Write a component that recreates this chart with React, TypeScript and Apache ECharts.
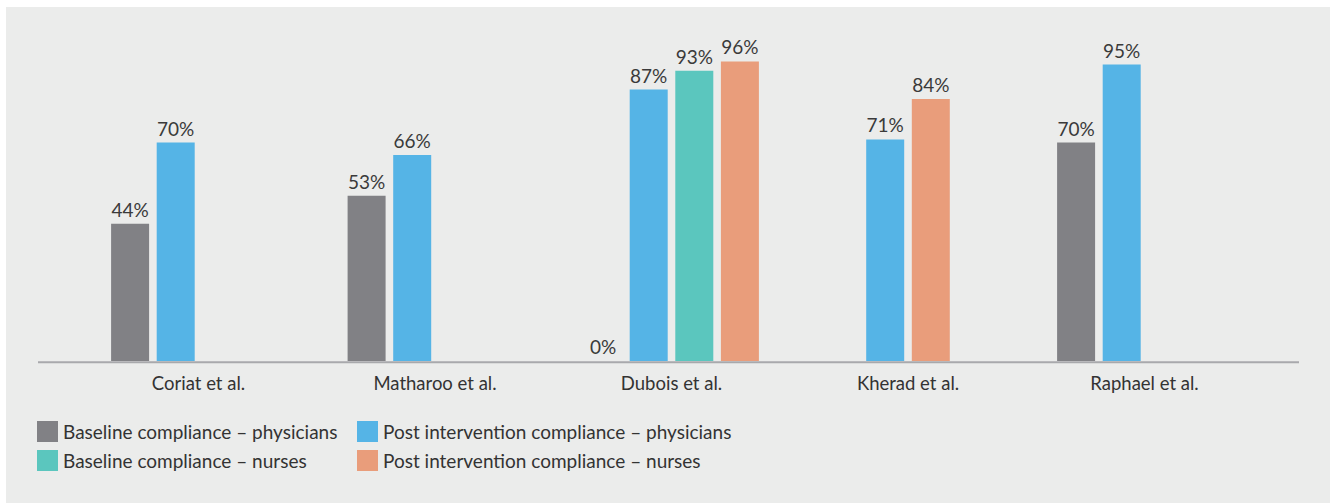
import React, { useEffect, useRef } from "react";
import * as echarts from "echarts";

const categories = ["Coriat et al.", "Matharoo et al.", "Dubois et al.", "Kherad et al.", "Raphael et al."];
const baselinePhysicians: (number | null)[] = [44, 53, 0, null, 70];
const postPhysicians: (number | null)[] = [70, 66, 87, 71, 95];
const baselineNurses: (number | null)[] = [null, null, 93, null, null];
const postNurses: (number | null)[] = [null, null, 96, 84, null];

const names = [
  "Baseline compliance – physicians",
  "Post intervention compliance – physicians",
  "Baseline compliance – nurses",
  "Post intervention compliance – nurses",
];
const colors = ["#818185", "#55b4e6", "#5bc6be", "#e99d7b"];

const FONT = "Lato";

export default function App() {
  const ref = useRef<HTMLDivElement>(null);
  useEffect(() => {
    document.body.style.margin = "0";
    const chart = echarts.init(ref.current!, undefined, { renderer: "svg" });
    // post-intervention nurses bar takes the third slot when there is no baseline nurses bar
    const postNursesThird = postNurses.map((v, i) => (baselineNurses[i] == null ? v : null));
    const postNursesFourth = postNurses.map((v, i) => (baselineNurses[i] != null ? v : null));

    const label = {
      show: true,
      position: "top" as const,
      distance: 5,
      formatter: "{c}%",
      fontFamily: FONT,
      fontSize: 19,
      color: "#3a3a3a",
    };
    const bar = (name: string, data: (number | null)[], color: string, stack?: string) => ({
      type: "bar",
      name,
      data,
      stack,
      barWidth: 38,
      barGap: "20%",
      itemStyle: { color },
      label,
    });
    const legendBase = {
      orient: "vertical",
      top: 421,
      padding: 0,
      itemWidth: 21,
      itemHeight: 21,
      itemGap: 8,
      icon: "rect",
      textStyle: { fontFamily: FONT, fontSize: 19, color: "#333333" },
    };

    chart.setOption({
      animation: false,
      backgroundColor: "#ffffff",
      textStyle: { fontFamily: FONT },
      graphic: [
        {
          type: "rect",
          z: -10,
          shape: { x: 6, y: 7, width: 1324, height: 496 },
          style: { fill: "#ebeceb" },
        },
        {
          type: "line",
          z: 10,
          shape: { x1: 38, y1: 362.3, x2: 1299, y2: 362.3 },
          style: { stroke: "#a8a9ac", lineWidth: 2 },
        },
      ],
      grid: { left: 80.25, right: 72.25, top: 49, bottom: 142 },
      xAxis: {
        type: "category",
        data: categories,
        axisLine: { show: false },
        axisTick: { show: false },
        axisLabel: { fontFamily: FONT, fontSize: 18.5, color: "#333333", margin: 12 },
      },
      yAxis: {
        type: "value",
        min: 0,
        max: 100,
        show: false,
        splitLine: { show: false },
      },
      legend: [
        { ...legendBase, data: [names[0], names[2]], left: 37 },
        { ...legendBase, data: [names[1], names[3]], left: 357 },
      ],
      series: [
        bar(names[0], baselinePhysicians, colors[0]),
        bar(names[1], postPhysicians, colors[1]),
        bar(names[2], baselineNurses, colors[2], "nurses"),
        bar(names[3], postNursesFourth, colors[3]),
        bar(names[3], postNursesThird, colors[3], "nurses"),
      ],
    });
    return () => chart.dispose();
  }, []);
  return <div ref={ref} style={{ width: 1335, height: 503 }} />;
}
